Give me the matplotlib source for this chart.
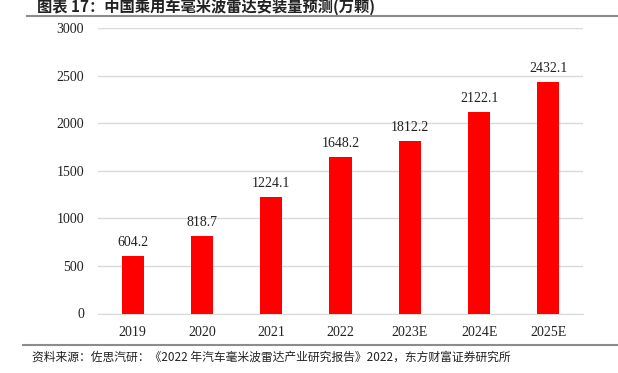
import matplotlib
matplotlib.use("Agg")
import matplotlib.pyplot as plt
from matplotlib.lines import Line2D

# data
years = ["2019", "2020", "2021", "2022", "2023E", "2024E", "2025E"]
volumes = [604.2, 818.7, 1224.1, 1648.2, 1812.2, 2122.1, 2432.1]
yticks = [0, 500, 1000, 1500, 2000, 2500, 3000]

title = "图表 17：中国乘用车毫米波雷达安装量预测(万颗)"
source = "资料来源：佐思汽研：《2022 年汽车毫米波雷达产业研究报告》2022，东方财富证券研究所"

serif = ["Liberation Serif", "DejaVu Serif"]
cjk = ["Noto Sans CJK SC", "DejaVu Sans"]

fig = plt.figure(figsize=(6.18, 3.73), dpi=100)
ax = fig.add_axes([98 / 618, 1 - 313.5 / 373, 485 / 618, 285.5 / 373])

x = range(len(years))
ax.bar(x, volumes, width=0.32, color="#ff0000", zorder=3)
for xi, v in zip(x, volumes):
    ax.annotate(f"{v:.1f}", (xi, v), xytext=(0, 5), textcoords="offset points",
                ha="center", va="bottom", fontsize=10, family=serif, color="#222222")

ax.set_xlim(-0.5, len(years) - 0.5)
ax.set_ylim(0, 3000)
ax.set_yticks(yticks)
ax.set_xticks(list(x))
ax.set_xticklabels(years)
ax.tick_params(length=0, labelsize=10, colors="#222222", pad=9)
ax.tick_params(axis="y", pad=10)
for lbl in ax.get_xticklabels() + ax.get_yticklabels():
    lbl.set_family(serif)

ax.grid(True, axis="y", color="#d9d9d9", linewidth=1, zorder=0)
for s in ["top", "right", "left"]:
    ax.spines[s].set_visible(False)
ax.spines["bottom"].set_color("#d9d9d9")

# header / footer
fig.text(37 / 618, 1 - 7 / 373, title, fontsize=11, fontweight="bold",
         family=cjk, ha="left", va="center", color="#222222")
fig.add_artist(Line2D([27 / 618, 1], [1 - 16 / 373] * 2, color="#8c8c8c", linewidth=1.5))
fig.add_artist(Line2D([23 / 618, 1], [1 - 345 / 373] * 2, color="#8c8c8c", linewidth=1.5))
fig.text(32 / 618, 1 - 357 / 373, source, fontsize=8.5, family=cjk,
         ha="left", va="center", color="#222222")

fig.savefig("out.png", dpi=100)
